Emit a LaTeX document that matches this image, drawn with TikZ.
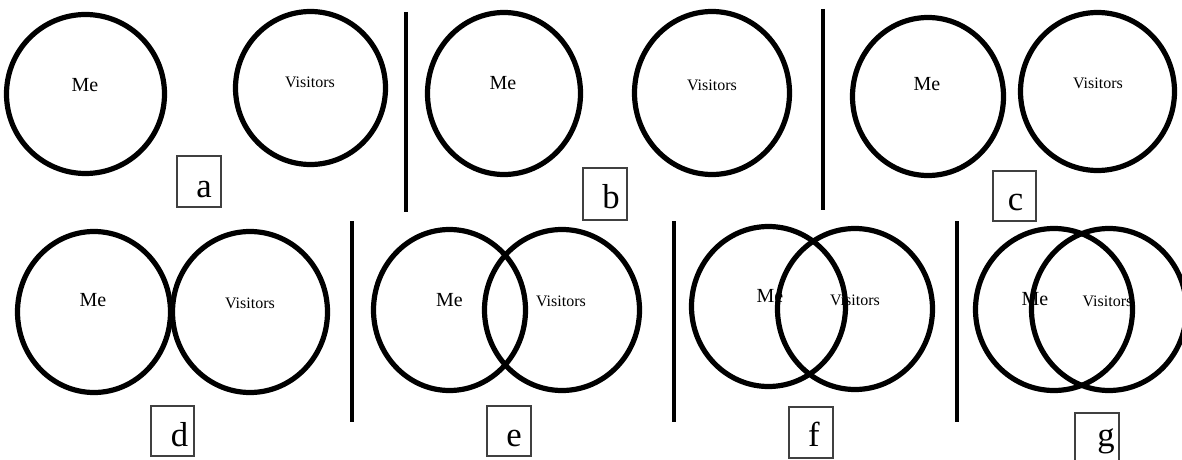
\documentclass[tikz,border=0pt]{standalone}
\usepackage{fontspec}
\setmainfont{Liberation Serif}
\usetikzlibrary{shapes.geometric,fit}
\begin{document}
\begin{tikzpicture}[x=0.75pt,y=-0.75pt,
  venn/.style={draw=black, line width=3.9pt, ellipse, inner sep=0pt},
  melabel/.style={anchor=base, font=\fontsize{15}{15}\selectfont, inner sep=0pt},
  vislabel/.style={anchor=base, font=\fontsize{12}{12}\selectfont, inner sep=0pt},
  tagbox/.style={draw=black!75, line width=0.8pt, inner sep=0pt},
  tagletter/.style={anchor=base, font=\fontsize{26}{26}\selectfont, inner sep=0pt},
  divider/.style={line width=2.7pt}
]
\useasboundingbox (0,0) rectangle (1182,460);

% ---------- labels (drawn first, circles overlay them) ----------
\node[melabel]  (aMeT)  at (85,91.5)    {Me};
\node[vislabel] (aVisT) at (310,88)     {Visitors};
\node[melabel]  (bMeT)  at (503,89.5)   {Me};
\node[vislabel] (bVisT) at (712,90.5)   {Visitors};
\node[melabel]  (cMeT)  at (927,91)     {Me};
\node[vislabel] (cVisT) at (1098,88.5)  {Visitors};
\node[melabel]  (dMeT)  at (93,306.5)   {Me};
\node[vislabel] (dVisT) at (250,308.5)  {Visitors};
\node[melabel]  (eMeT)  at (449.5,306)  {Me};
\node[vislabel] (eVisT) at (561,306.5)  {Visitors};
\node[melabel]  (fMeT)  at (770,302)    {Me};
\node[vislabel] (fVisT) at (855,305)    {Visitors};
\node[melabel]  (gMeT)  at (1035,305)   {Me};
\node[vislabel] (gVisT) at (1107.5,306) {Visitors};

% ---------- circles ----------
\node[venn, minimum width=118.5pt,  minimum height=119.25pt] (aMe)  at (85.5,94)     {};
\node[venn, minimum width=112.5pt,  minimum height=114.75pt] (aVis) at (310.5,88)    {};
\node[venn, minimum width=114.75pt, minimum height=121.5pt]  (bMe)  at (504,93.5)    {};
\node[venn, minimum width=116.25pt, minimum height=122.25pt] (bVis) at (712,93)      {};
\node[venn, minimum width=113.25pt, minimum height=118.5pt]  (cMe)  at (928,96.5)    {};
\node[venn, minimum width=115.5pt,  minimum height=118.5pt]  (cVis) at (1097.5,91.5) {};
\node[venn, minimum width=114.75pt, minimum height=120.75pt] (dMe)  at (94,312)      {};
\node[venn, minimum width=116.25pt, minimum height=120.75pt] (dVis) at (250,312)     {};
\node[venn, minimum width=114pt,    minimum height=120.75pt] (eMe)  at (449.5,310)   {};
\node[venn, minimum width=116.25pt, minimum height=120.75pt] (eVis) at (562,310)     {};
\node[venn, minimum width=115.5pt,  minimum height=120pt]    (fMe)  at (768.5,306.5) {};
\node[venn, minimum width=116.25pt, minimum height=120.75pt] (fVis) at (855,309)     {};
\node[venn, minimum width=117.75pt, minimum height=121.5pt]  (gMe)  at (1054,309.5)  {};
\node[venn, minimum width=116.25pt, minimum height=121.5pt]  (gVis) at (1109,309.5)  {};

% ---------- tag boxes ----------
\node[tagbox, fit={(177,156) (221,207)}]  (aBox) {};
\node[tagbox, fit={(583,168) (627,220)}]  (bBox) {};
\node[tagbox, fit={(993,171) (1036,221)}] (cBox) {};
\node[tagbox, fit={(151,406) (194,456)}]  (dBox) {};
\node[tagbox, fit={(487,406) (531,456)}]  (eBox) {};
\node[tagbox, fit={(789,407) (833,458)}]  (fBox) {};
\node[tagbox, fit={(1075,413) (1119,463)}] (gBox) {};

\node[tagletter] (aL) at (204,197)    {a};
\node[tagletter] (bL) at (611,208)    {b};
\node[tagletter] (cL) at (1015.5,210) {c};
\node[tagletter] (dL) at (179.5,446)  {d};
\node[tagletter] (eL) at (514,446)    {e};
\node[tagletter] (fL) at (814,446)    {f};
\node[tagletter] (gL) at (1106,446)   {g};

% ---------- dividers ----------
\coordinate (s1t) at (406,12);  \coordinate (s1b) at (406,212);
\coordinate (s2t) at (823,9);   \coordinate (s2b) at (823,210);
\coordinate (s3t) at (352,221); \coordinate (s3b) at (352,422);
\coordinate (s4t) at (674,221); \coordinate (s4b) at (674,422);
\coordinate (s5t) at (957,221); \coordinate (s5b) at (957,422);
\draw[divider] (s1t) -- (s1b);
\draw[divider] (s2t) -- (s2b);
\draw[divider] (s3t) -- (s3b);
\draw[divider] (s4t) -- (s4b);
\draw[divider] (s5t) -- (s5b);
\end{tikzpicture}
\end{document}
